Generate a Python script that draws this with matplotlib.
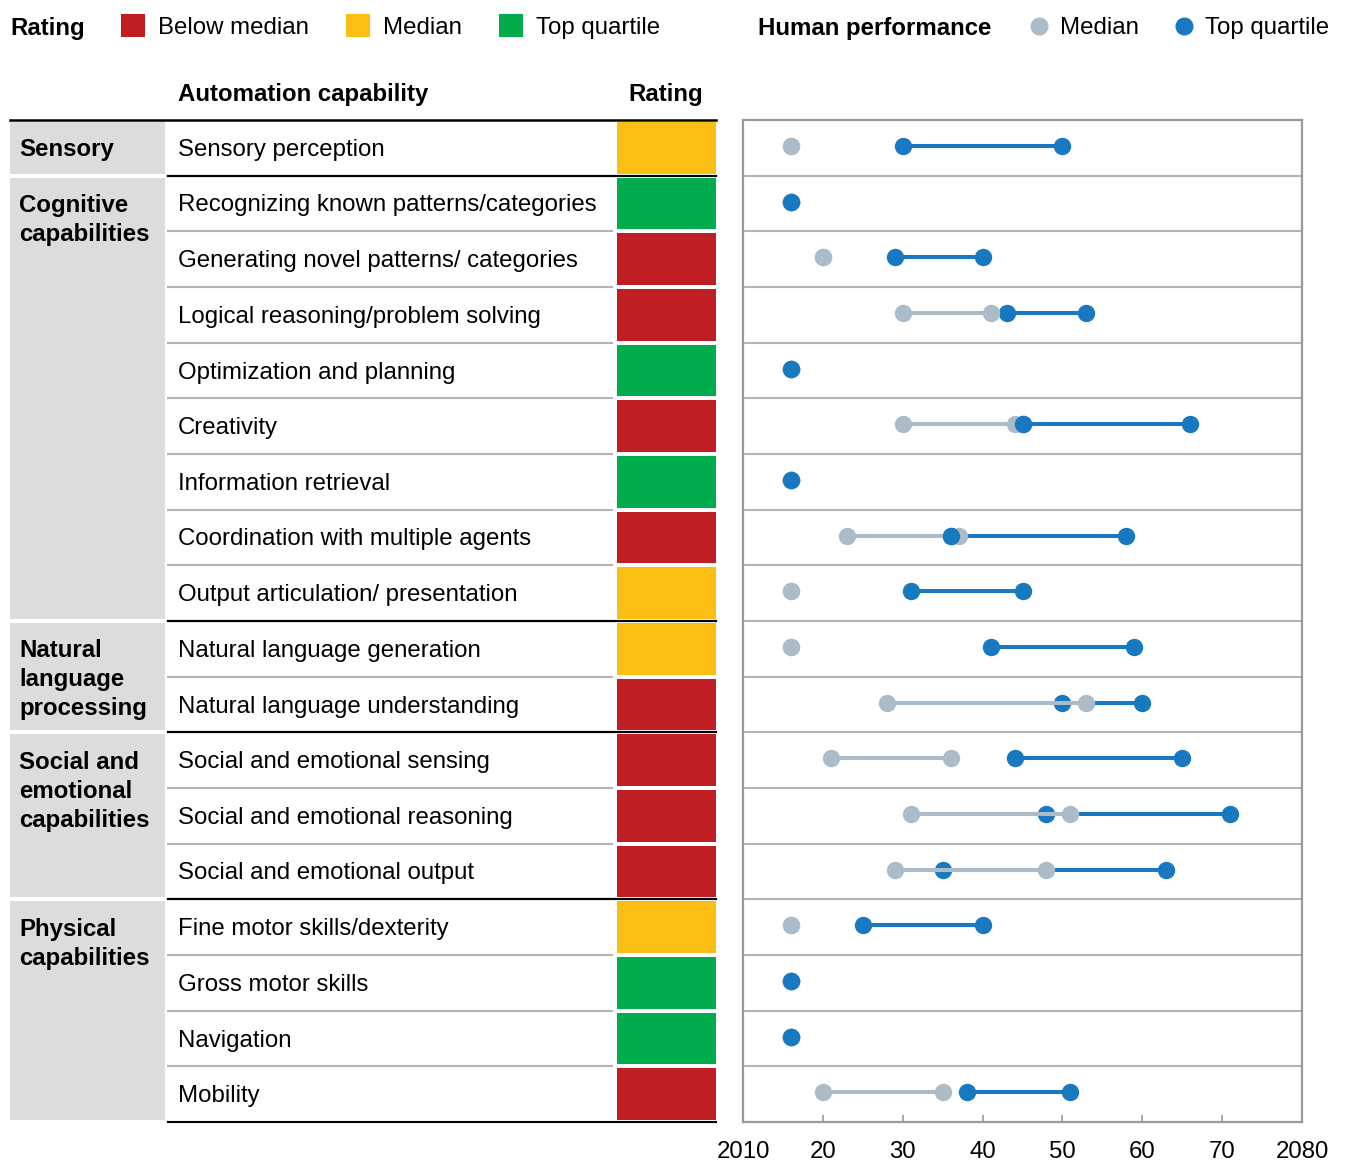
import numpy as np
import matplotlib
matplotlib.use('Agg')
import matplotlib.pyplot as plt
from matplotlib.patches import Rectangle

plt.rcParams['font.family'] = ['Liberation Sans', 'DejaVu Sans']

# capabilities, top to bottom
capabilities = [
    'Sensory perception',
    'Recognizing known patterns/categories',
    'Generating novel patterns/ categories',
    'Logical reasoning/problem solving',
    'Optimization and planning',
    'Creativity',
    'Information retrieval',
    'Coordination with multiple agents',
    'Output articulation/ presentation',
    'Natural language generation',
    'Natural language understanding',
    'Social and emotional sensing',
    'Social and emotional reasoning',
    'Social and emotional output',
    'Fine motor skills/dexterity',
    'Gross motor skills',
    'Navigation',
    'Mobility',
]
# 0 = below median, 1 = median, 2 = top quartile
ratings = [1, 2, 0, 0, 2, 0, 2, 0, 1, 1, 0, 0, 0, 0, 1, 2, 2, 0]

groups = ['Sensory', 'Cognitive\ncapabilities', 'Natural\nlanguage\nprocessing',
          'Social and\nemotional\ncapabilities', 'Physical\ncapabilities']
group_rows = [1, 8, 2, 3, 4]

# years when human performance is reached
median_start = [2016, 2016, 2020, 2030, 2016, 2030, 2016, 2023, 2016,
                2016, 2028, 2021, 2031, 2029, 2016, 2016, 2016, 2020]
median_end = [2016, 2016, 2020, 2041, 2016, 2044, 2016, 2037, 2016,
              2016, 2053, 2036, 2051, 2048, 2016, 2016, 2016, 2035]
top_start = [2030, 2016, 2029, 2043, 2016, 2045, 2016, 2036, 2031,
             2041, 2050, 2044, 2048, 2035, 2025, 2016, 2016, 2038]
top_end = [2050, 2016, 2040, 2053, 2016, 2066, 2016, 2058, 2045,
           2059, 2060, 2065, 2071, 2063, 2040, 2016, 2016, 2051]

year_ticks = [2010, 2020, 2030, 2040, 2050, 2060, 2070, 2080]
year_labels = ['2010', '20', '30', '40', '50', '60', '70', '2080']

rating_colors = ['#BE1E24', '#FBBE14', '#00AC4E']
rating_names = ['Below median', 'Median', 'Top quartile']
c_med = '#ABBCC8'
c_top = '#1878C0'
c_group = '#DCDCDC'
fs = 17.3

W, H = 1345, 1163
fig = plt.figure(figsize=(W / 100, H / 100), dpi=100)

# table drawn in pixel coordinates
tab = fig.add_axes([0, 0, 1, 1])
tab.set_xlim(0, W)
tab.set_ylim(H, 0)
tab.axis('off')

top, bottom = 120, 1122
n = len(capabilities)
rh = (bottom - top) / n
dy = 2  # nudge text down to match baseline

# legend row
tab.text(10, 26 + dy, 'Rating', fontsize=fs, fontweight='bold', va='center')
for x, col, name in zip([121, 346, 499], rating_colors, rating_names):
    tab.add_patch(Rectangle((x, 14), 24, 23, color=col, lw=0))
    tab.text(x + 37, 26 + dy, name, fontsize=fs, va='center')
tab.text(758, 26 + dy, 'Human performance', fontsize=fs, fontweight='bold', va='center')
tab.plot([1039], [26], 'o', color=c_med, ms=12)
tab.text(1060, 26 + dy, 'Median', fontsize=fs, va='center')
tab.plot([1184], [26], 'o', color=c_top, ms=12)
tab.text(1205, 26 + dy, 'Top quartile', fontsize=fs, va='center')

# headers
tab.text(178, 93 + dy, 'Automation capability', fontsize=fs, fontweight='bold', va='center')
tab.text(666, 93 + dy, 'Rating', fontsize=fs, fontweight='bold', va='center', ha='center')
tab.plot([10, 716], [top, top], color='black', lw=1.8)

# rows
for i, (cap, r) in enumerate(zip(capabilities, ratings)):
    y0 = top + i * rh
    yc = y0 + rh / 2
    tab.text(178, yc + dy, cap, fontsize=fs, va='center')
    tab.add_patch(Rectangle((617, y0 + 2), 99, rh - 4, color=rating_colors[r], lw=0))
    if i > 0:
        tab.plot([168, 612], [y0, y0], color='#B4B4B4', lw=1.5)

# groups
start = 0
for g, cnt in zip(groups, group_rows):
    y0 = top + start * rh
    y1 = top + (start + cnt) * rh
    tab.add_patch(Rectangle((10, y0 + 2), 155, y1 - y0 - 4, color=c_group, lw=0))
    for k, line in enumerate(g.split('\n')):
        tab.text(19, y0 + rh / 2 + k * 29 + dy, line, fontsize=fs, fontweight='bold', va='center')
    tab.plot([168, 716], [y1, y1], color='black', lw=1.5)
    if start > 0:
        tab.plot([168, 716], [y0, y0], color='black', lw=1.5)
    start += cnt

# dumbbell chart
ax = fig.add_axes([743 / W, (H - bottom) / H, 559 / W, (bottom - top) / H])
ax.set_xlim(2010, 2080)
ax.set_ylim(n, 0)
rows = np.arange(n) + 0.47
for i in range(n):
    ax.plot([top_start[i], top_end[i]], [rows[i]] * 2, color=c_top, lw=2.9,
            solid_capstyle='butt', zorder=2)
    ax.plot([median_start[i], median_end[i]], [rows[i]] * 2, color=c_med, lw=2.9,
            solid_capstyle='butt', zorder=4)
ax.plot(top_start, rows, 'o', color=c_top, ms=11.5, zorder=3)
ax.plot(top_end, rows, 'o', color=c_top, ms=11.5, zorder=3)
ax.plot(median_start, rows, 'o', color=c_med, ms=11.5, zorder=5)
ax.plot(median_end, rows, 'o', color=c_med, ms=11.5, zorder=5)
# blue dot stays on top where it sits on a median dot
for i in range(n):
    if top_start[i] == median_start[i] or abs(top_start[i] - median_end[i]) <= 1:
        ax.plot([top_start[i]], [rows[i]], 'o', color=c_top, ms=11.5, zorder=6)

for k in range(1, n):
    ax.axhline(k, color='#B4B4B4', lw=1.5, zorder=1)

for s in ax.spines.values():
    s.set_color('#9A9A9A')
    s.set_linewidth(1.6)
ax.set_yticks([])
ax.set_xticks(year_ticks)
ax.set_xticklabels(year_labels, fontsize=fs)
ax.tick_params(axis='x', direction='in', length=5, width=1.2, color='#9A9A9A', pad=14)

fig.savefig('out.png', dpi=100)
